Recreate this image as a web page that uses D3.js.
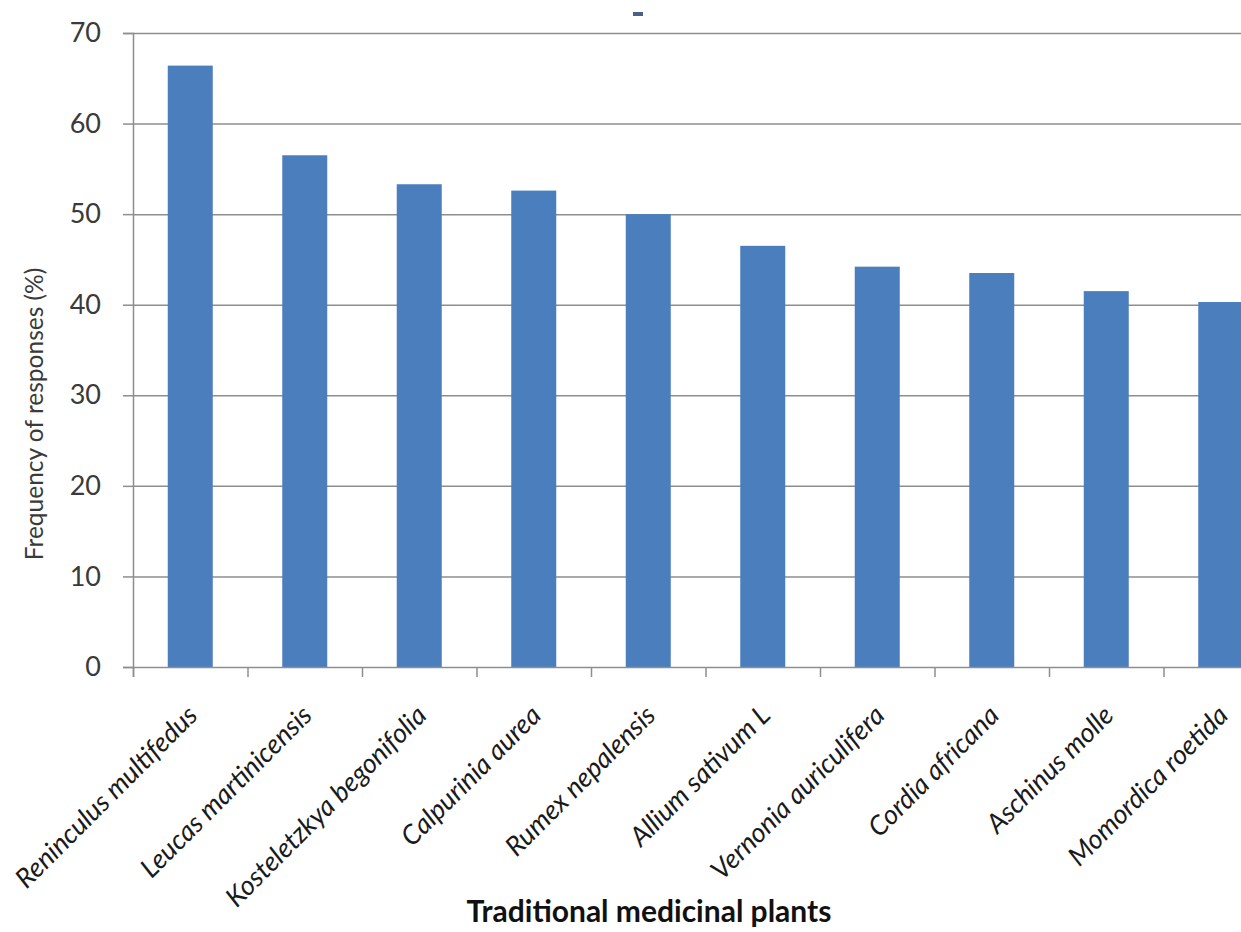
<!DOCTYPE html>
<html>
<head>
<meta charset="utf-8">
<script src="https://cdn.jsdelivr.net/npm/d3@7"></script>
<style>
  html, body { margin: 0; padding: 0; background: #ffffff; overflow: hidden; }
  svg { display: block; }
</style>
</head>
<body>
<svg id="chart" width="1241" height="932"></svg>
<script>
// Plant species and the share of respondents naming each one
const plants = [
  "Reninculus multifedus",
  "Leucas martinicensis",
  "Kosteletzkya begonifolia",
  "Calpurinia aurea",
  "Rumex nepalensis",
  "Allium sativum L",
  "Vernonia auriculifera",
  "Cordia africana",
  "Aschinus molle",
  "Momordica roetida"
];
const responses = [66.4, 56.5, 53.3, 52.6, 50.0, 46.5, 44.2, 43.5, 41.5, 40.3];
const yTicks = [0, 10, 20, 30, 40, 50, 60, 70];
const yTitle = "Frequency of responses (%)";
const xTitle = "Traditional medicinal plants";

const svg = d3.select("#chart");

// Plot frame (the plot runs past the right edge of the page)
const plotLeft = 133, plotRight = 1278, plotTop = 33, plotBottom = 667;

const x = d3.scaleBand()
  .domain(plants)
  .range([plotLeft, plotRight])
  .paddingInner(0.607)
  .paddingOuter(0.3035);

const y = d3.scaleLinear()
  .domain([0, 70])
  .range([plotBottom, plotTop]);

// Category boundaries for the bottom tick marks
const xEdge = d3.scaleLinear().domain([0, plants.length]).range([plotLeft, plotRight]);

// Horizontal gridlines
const grid = svg.append("g")
  .attr("transform", `translate(${plotLeft},0)`)
  .call(d3.axisLeft(y).tickValues(yTicks.filter(v => v > 0)).tickSize(-(plotRight - plotLeft)).tickFormat(""));
grid.select(".domain").remove();
grid.selectAll("line").attr("stroke", "#8e8e8e").attr("stroke-width", 1.5);

// Bars
svg.append("g")
  .selectAll("rect")
  .data(plants)
  .join("rect")
  .attr("x", d => x(d))
  .attr("width", x.bandwidth())
  .attr("y", (d, i) => y(responses[i]))
  .attr("height", (d, i) => y(0) - y(responses[i]))
  .attr("fill", "#4a7ebd");

// Y axis
const yAxis = svg.append("g")
  .attr("transform", `translate(${plotLeft},0)`)
  .call(d3.axisLeft(y).tickValues(yTicks).tickSize(10).tickPadding(22));
yAxis.select(".domain").attr("stroke", "#8e8e8e").attr("stroke-width", 1.5);
yAxis.selectAll("line").attr("stroke", "#8e8e8e").attr("stroke-width", 1.5);
yAxis.selectAll("text")
  .attr("font-family", "Lato, 'Open Sans', sans-serif")
  .attr("font-size", 27)
  .attr("fill", "#3a3a3a");

// X axis line with boundary ticks
const xAxis = svg.append("g")
  .attr("transform", `translate(0,${plotBottom})`)
  .call(d3.axisBottom(xEdge).tickValues(d3.range(plants.length + 1)).tickSize(10).tickFormat(""));
xAxis.select(".domain").attr("stroke", "#8e8e8e").attr("stroke-width", 1.5);
xAxis.selectAll("line").attr("stroke", "#8e8e8e").attr("stroke-width", 1.5);

// Rotated category labels
svg.append("g")
  .selectAll("text")
  .data(plants)
  .join("text")
  .attr("transform", d => `translate(${x(d) + x.bandwidth() / 2 + 9},${plotBottom + 50}) rotate(-45)`)
  .attr("text-anchor", "end")
  .attr("font-family", "Lato, 'Open Sans', sans-serif")
  .attr("font-style", "italic")
  .attr("font-size", 27)
  .attr("fill", "#1a1a1a")
  .text(d => d);

// Axis titles
svg.append("text")
  .attr("transform", `translate(43,414) rotate(-90)`)
  .attr("text-anchor", "middle")
  .attr("font-family", "Lato, 'Open Sans', sans-serif")
  .attr("font-size", 24.5)
  .attr("fill", "#3a3a3a")
  .text(yTitle);

svg.append("text")
  .attr("x", 649)
  .attr("y", 922)
  .attr("text-anchor", "middle")
  .attr("font-family", "Lato, 'Open Sans', sans-serif")
  .attr("font-weight", "bold")
  .attr("font-size", 30)
  .attr("fill", "#111111")
  .text(xTitle);

// Small mark above the plot
svg.append("rect")
  .attr("x", 633).attr("y", 12).attr("width", 10).attr("height", 4)
  .attr("fill", "#4a5f8a");
</script>
</body>
</html>
